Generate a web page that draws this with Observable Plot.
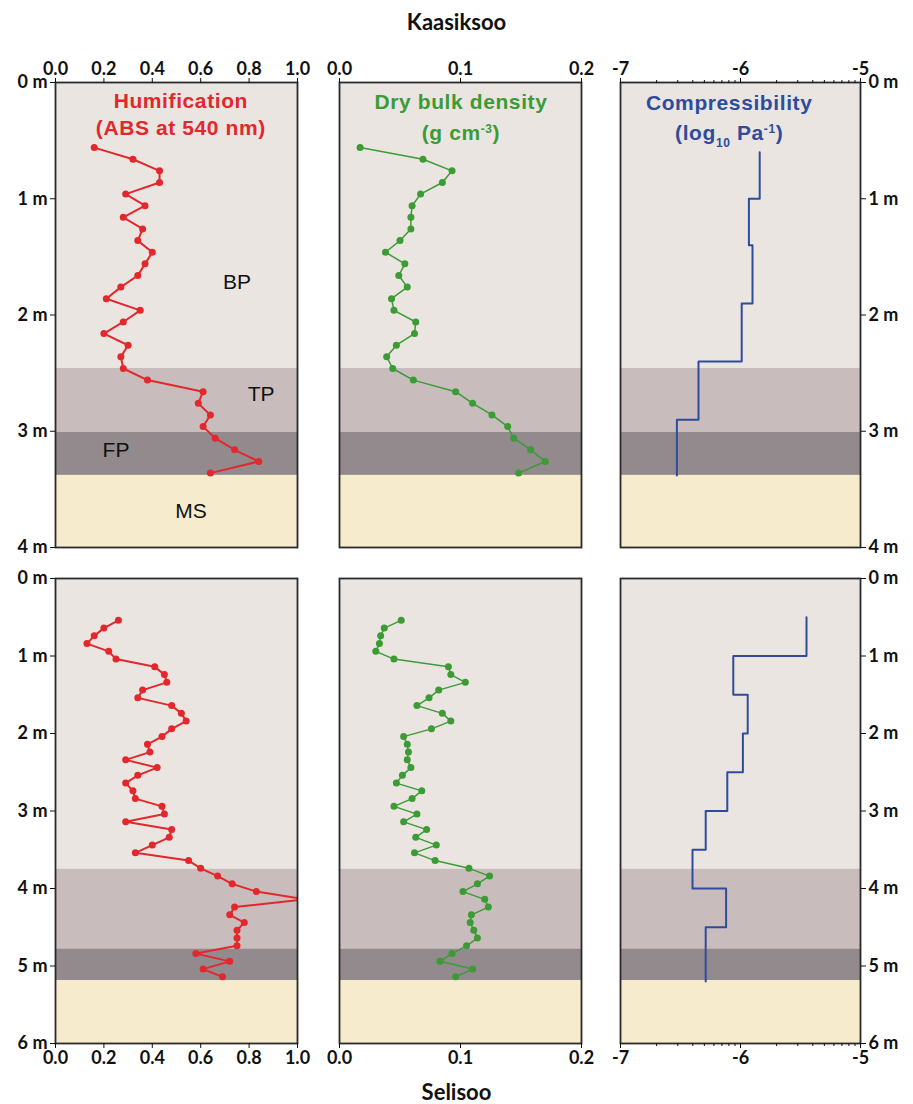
<!DOCTYPE html>
<html>
<head>
<meta charset="utf-8">
<script src="https://cdn.jsdelivr.net/npm/d3@7"></script>
<script src="https://cdn.jsdelivr.net/npm/@observablehq/plot@0.6"></script>
<style>
  body { margin: 0; background: #ffffff; }
  #root { position: relative; width: 913px; height: 1104px; overflow: hidden; }
  .panel { position: absolute; }
  .site { position: absolute; left: 0; width: 913px; text-align: center;
          font-family: Lato, "Liberation Sans", sans-serif; font-weight: bold; font-size: 22px; color: #111; }
</style>
</head>
<body>
<div id="root"></div>
<script>
// ---------------- DATA ----------------
const sites = ["Kaasiksoo", "Selisoo"];

// Kaasiksoo (top row)
const kaDepth = [0.56,0.66,0.76,0.86,0.96,1.06,1.16,1.26,1.36,1.46,1.56,1.66,1.76,1.86,1.96,
                 2.06,2.16,2.26,2.36,2.46,2.56,2.66,2.76,2.86,2.96,3.06,3.16,3.26,3.36];
const kaHumification = [0.16,0.32,0.43,0.43,0.29,0.37,0.28,0.36,0.34,0.40,0.37,0.34,0.27,0.21,0.35,
                        0.28,0.20,0.30,0.27,0.28,0.38,0.61,0.59,0.64,0.61,0.66,0.74,0.84,0.64];
const kaDensity = [0.017,0.069,0.093,0.085,0.067,0.060,0.059,0.059,0.050,0.038,0.054,0.049,0.056,0.043,0.045,
                   0.063,0.062,0.047,0.039,0.044,0.061,0.096,0.110,0.126,0.139,0.144,0.158,0.170,0.148];
const kaCompTop    = [0.6, 1.0, 1.4, 1.9, 2.4, 2.9];
const kaCompBottom = [1.0, 1.4, 1.9, 2.4, 2.9, 3.38];
const kaCompressibility = [-5.84, -5.93, -5.90, -5.99, -6.35, -6.53];
const kaLayerTop    = [0, 2.46, 3.01, 3.38];
const kaLayerBottom = [2.46, 3.01, 3.38, 4];

// Selisoo (bottom row)
const seDepth = [0.54,0.64,0.74,0.84,0.94,1.04,1.14,1.24,1.34,1.44,1.54,1.64,1.74,1.84,1.94,
                 2.04,2.14,2.24,2.34,2.44,2.54,2.64,2.74,2.84,2.94,3.04,3.14,3.24,3.34,3.44,
                 3.54,3.64,3.74,3.84,3.94,4.04,4.14,4.24,4.34,4.44,4.54,4.64,4.74,4.84,4.94,
                 5.04,5.14];
const seHumification = [0.26,0.20,0.16,0.13,0.22,0.25,0.41,0.45,0.46,0.36,0.34,0.48,0.52,0.54,0.48,
                        0.44,0.38,0.39,0.29,0.42,0.34,0.29,0.32,0.33,0.44,0.45,0.29,0.48,0.47,0.40,
                        0.33,0.55,0.60,0.67,0.73,0.83,1.03,0.74,0.72,0.78,0.75,0.75,0.75,0.58,0.72,
                        0.61,0.69];
const seDensity = [0.051,0.037,0.034,0.033,0.030,0.045,0.090,0.092,0.104,0.082,0.074,0.064,0.085,0.092,0.076,
                   0.053,0.056,0.057,0.056,0.059,0.052,0.047,0.068,0.060,0.045,0.064,0.053,0.072,0.063,0.080,
                   0.062,0.079,0.107,0.124,0.114,0.102,0.120,0.123,0.109,0.108,0.111,0.114,0.105,0.093,0.083,
                   0.110,0.096];
const seCompTop    = [0.5, 1.0, 1.5, 2.0, 2.5, 3.0, 3.5, 4.0, 4.5];
const seCompBottom = [1.0, 1.5, 2.0, 2.5, 3.0, 3.5, 4.0, 4.5, 5.2];
const seCompressibility = [-5.45, -6.06, -5.94, -5.98, -6.11, -6.29, -6.40, -6.12, -6.29];
const seLayerTop    = [0, 3.75, 4.78, 5.19];
const seLayerBottom = [3.75, 4.78, 5.19, 6];

const layerNames = ["BP", "TP", "FP", "MS"];

// axis ticks
const humTicks  = [0, 0.2, 0.4, 0.6, 0.8, 1.0];
const denTicks  = [0, 0.1, 0.2];
const compTicks = [-7, -6, -5];
const kaDepthTicks = [0, 1, 2, 3, 4];
const seDepthTicks = [0, 1, 2, 3, 4, 5, 6];

// ---------------- STYLE ----------------
const COLORS = { hum: "#E2282C", den: "#3C9B35", comp: "#2F4C9C" };
const LAYER_FILL = { BP: "#EAE5E1", TP: "#C9BCBC", FP: "#928A8D", MS: "#F6ECCD" };
const TICK_FONT = "Lato, 'Liberation Sans', sans-serif";
const LABEL_FONT = "'Liberation Sans', Arial, sans-serif";

// log-style minor ticks for the exponent axis
const compMinor = [];
for (const base of [-7, -6]) for (let k = 2; k <= 9; k++) compMinor.push(base + Math.log10(k));

const COLS = [{ left: 55, width: 242 }, { left: 339, width: 242 }, { left: 620, width: 240 }];
const ROWS = [{ top: 82, height: 465 }, { top: 578, height: 465 }];

const root = document.getElementById("root");

function rows(depth, values) { return depth.map((d, i) => ({ d, v: values[i] })); }
function stepRows(tops, bottoms, values) {
  const out = [];
  values.forEach((v, i) => { out.push({ d: tops[i], v }); out.push({ d: bottoms[i], v }); });
  return out;
}
function layers(tops, bottoms) { return layerNames.map((name, i) => ({ name, top: tops[i], bottom: bottoms[i] })); }

function drawPanel(cfg) {
  const M = { top: 40, right: 60, bottom: 40, left: 60 };
  const col = COLS[cfg.col], row = ROWS[cfg.row];
  const marks = [
    Plot.rect(cfg.layers, { x1: () => cfg.xDomain[0], x2: () => cfg.xDomain[1], y1: "top", y2: "bottom",
                            fill: d => LAYER_FILL[d.name] })
  ];
  if (cfg.series) {
    marks.push(Plot.line(cfg.series, { x: "v", y: "d", stroke: cfg.color, strokeWidth: cfg.lineWidth, clip: true }));
    marks.push(Plot.dot(cfg.series, { x: "v", y: "d", r: 3.5, fill: cfg.color, clip: true }));
  }
  if (cfg.step) marks.push(Plot.line(cfg.step, { x: "v", y: "d", stroke: cfg.color, strokeWidth: 2, clip: true }));
  if (cfg.layerLabels) marks.push(Plot.text(cfg.layerLabels, { x: "x", y: "y", text: "name", fontSize: 21,
      fontFamily: LABEL_FONT, fontWeight: "normal", fill: "#111" }));
  marks.push(Plot.frame({ stroke: "#2a2a2a", strokeWidth: 1.8 }));
  marks.push(Plot.axisX({ anchor: cfg.xAnchor, ticks: cfg.xTicks, tickFormat: cfg.xFormat, tickSize: 5,
                          tickPadding: 3, label: null }));
  if (cfg.xMinor) marks.push(Plot.axisX({ anchor: cfg.xAnchor, ticks: cfg.xMinor, tickFormat: () => "",
                                          tickSize: 3, label: null }));
  if (cfg.yAnchor) marks.push(Plot.axisY({ anchor: cfg.yAnchor, ticks: cfg.yTicks, tickFormat: d => `${d} m`,
                                           tickSize: 5, tickPadding: 3, label: null }));
  const yOpts = { domain: cfg.yDomain, reverse: true, label: null };
  if (!cfg.yAnchor) yOpts.axis = null;
  const svg = Plot.plot({
    width: col.width + M.left + M.right,
    height: row.height + M.top + M.bottom,
    marginTop: M.top, marginRight: M.right, marginBottom: M.bottom, marginLeft: M.left,
    x: { domain: cfg.xDomain, label: null },
    y: yOpts,
    style: { background: "transparent", overflow: "visible", fontFamily: TICK_FONT, fontSize: "18px",
             fontWeight: "bold", color: "#111" },
    marks
  });
  if (cfg.titles) {
    const sx = svg.scale("x"), sy = svg.scale("y");
    for (const lab of cfg.titles) {
      const t = d3.select(svg).append("text")
        .attr("x", sx.apply(lab.x)).attr("y", sy.apply(lab.y))
        .attr("text-anchor", "middle").attr("fill", cfg.color)
        .attr("font-family", LABEL_FONT).attr("font-weight", "bold")
        .attr("font-size", 21).attr("letter-spacing", 0.6);
      for (const p of lab.parts) {
        const s = t.append("tspan").text(p.t);
        if (p.sup) s.attr("baseline-shift", "super").attr("font-size", 12);
        if (p.sub) s.attr("baseline-shift", "sub").attr("font-size", 12);
      }
    }
  }
  svg.classList.add("panel");
  svg.style.position = "absolute";
  svg.style.left = (col.left - M.left) + "px";
  svg.style.top = (row.top - M.top) + "px";
  root.appendChild(svg);
}

const f1 = d3.format(".1f");
const fInt = d => String(d);

// ---- Top row: Kaasiksoo ----
const kaLayers = layers(kaLayerTop, kaLayerBottom);
drawPanel({
  col: 0, row: 0, xDomain: [0, 1], yDomain: [0, 4], xTicks: humTicks, xFormat: f1, xAnchor: "top",
  yAnchor: "left", yTicks: kaDepthTicks, layers: kaLayers,
  series: rows(kaDepth, kaHumification), color: COLORS.hum, lineWidth: 2,
  layerLabels: [
    { name: "BP", x: 0.75, y: 1.72 }, { name: "TP", x: 0.85, y: 2.68 },
    { name: "FP", x: 0.25, y: 3.16 }, { name: "MS", x: 0.56, y: 3.69 }
  ],
  titles: [
    { x: 0.52, y: 0.225, parts: [{ t: "Humification" }] },
    { x: 0.52, y: 0.46, parts: [{ t: "(ABS at 540 nm)" }] }
  ]
});
drawPanel({
  col: 1, row: 0, xDomain: [0, 0.2], yDomain: [0, 4], xTicks: denTicks, xFormat: f1, xAnchor: "top",
  layers: kaLayers, series: rows(kaDepth, kaDensity), color: COLORS.den, lineWidth: 1.5,
  titles: [
    { x: 0.1008, y: 0.233, parts: [{ t: "Dry bulk density" }] },
    { x: 0.1008, y: 0.50, parts: [{ t: "(g cm" }, { t: "-3", sup: true }, { t: ")" }] }
  ]
});
drawPanel({
  col: 2, row: 0, xDomain: [-7, -5], yDomain: [0, 4], xTicks: compTicks, xFormat: fInt, xMinor: compMinor,
  xAnchor: "top", yAnchor: "right", yTicks: kaDepthTicks, layers: kaLayers,
  step: stepRows(kaCompTop, kaCompBottom, kaCompressibility), color: COLORS.comp,
  titles: [
    { x: -6.09, y: 0.245, parts: [{ t: "Compressibility" }] },
    { x: -6.09, y: 0.50, parts: [{ t: "(log" }, { t: "10", sub: true }, { t: " Pa" }, { t: "-1", sup: true }, { t: ")" }] }
  ]
});

// ---- Bottom row: Selisoo ----
const seLayers = layers(seLayerTop, seLayerBottom);
drawPanel({
  col: 0, row: 1, xDomain: [0, 1], yDomain: [0, 6], xTicks: humTicks, xFormat: f1, xAnchor: "bottom",
  yAnchor: "left", yTicks: seDepthTicks, layers: seLayers,
  series: rows(seDepth, seHumification), color: COLORS.hum, lineWidth: 2
});
drawPanel({
  col: 1, row: 1, xDomain: [0, 0.2], yDomain: [0, 6], xTicks: denTicks, xFormat: f1, xAnchor: "bottom",
  layers: seLayers, series: rows(seDepth, seDensity), color: COLORS.den, lineWidth: 1.5
});
drawPanel({
  col: 2, row: 1, xDomain: [-7, -5], yDomain: [0, 6], xTicks: compTicks, xFormat: fInt, xMinor: compMinor,
  xAnchor: "bottom", yAnchor: "right", yTicks: seDepthTicks, layers: seLayers,
  step: stepRows(seCompTop, seCompBottom, seCompressibility), color: COLORS.comp
});

// site titles
const t1 = document.createElement("div");
t1.className = "site"; t1.style.top = "8px"; t1.textContent = sites[0];
root.appendChild(t1);
const t2 = document.createElement("div");
t2.className = "site"; t2.style.top = "1078px"; t2.textContent = sites[1];
root.appendChild(t2);
</script>
</body>
</html>
